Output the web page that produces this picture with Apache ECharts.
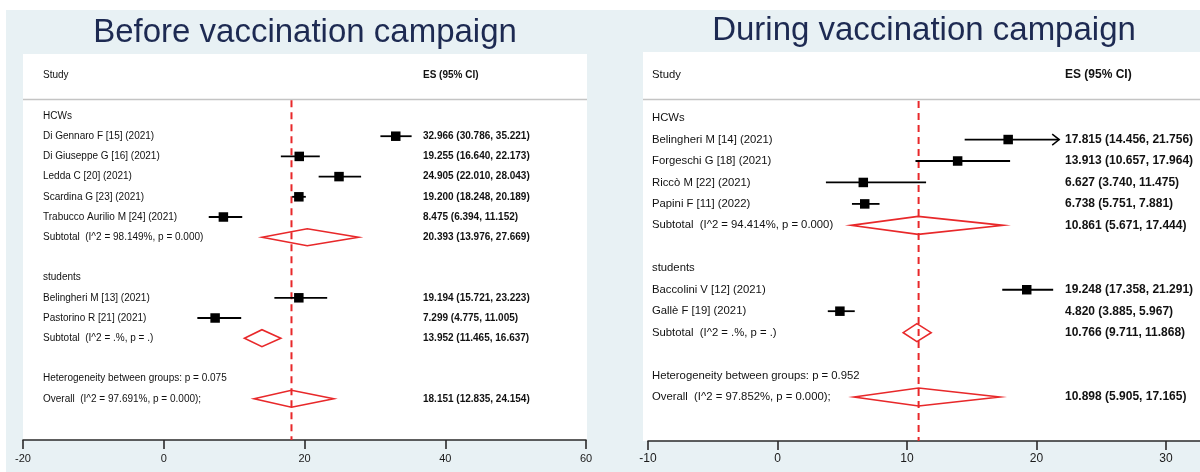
<!DOCTYPE html>
<html>
<head>
<meta charset="utf-8">
<script src="https://cdn.jsdelivr.net/npm/echarts@6/dist/echarts.min.js"></script>
<style>
  html, body { margin: 0; padding: 0; background: #ffffff; }
  #chart { width: 1200px; height: 472px; }
</style>
</head>
<body>
<div id="chart"></div>
<script>
// ---------- Before vaccination campaign ----------
const beforeGroups = ['HCWs', 'students'];
const beforeStudies = [
  'Di Gennaro F [15] (2021)', 'Di Giuseppe G [16] (2021)', 'Ledda C [20] (2021)',
  'Scardina G [23] (2021)', 'Trabucco Aurilio M [24] (2021)',
  'Belingheri M [13] (2021)', 'Pastorino R [21] (2021)'
];
const beforeStudyGroup = [0, 0, 0, 0, 0, 1, 1];
const beforeES    = [32.966, 19.255, 24.905, 19.200, 8.475, 19.194, 7.299];
const beforeLower = [30.786, 16.640, 22.010, 18.248, 6.394, 15.721, 4.775];
const beforeUpper = [35.221, 22.173, 28.043, 20.189, 11.152, 23.223, 11.005];
const beforeSubES    = [20.393, 13.952];
const beforeSubLower = [13.976, 11.465];
const beforeSubUpper = [27.669, 16.637];
const beforeSubStats = ['(I^2 = 98.149%, p = 0.000)', '(I^2 = .%, p = .)'];
const beforeHeterogeneityP = '0.075';
const beforeOverallES = 18.151, beforeOverallLower = 12.835, beforeOverallUpper = 24.154;
const beforeOverallStats = '(I^2 = 97.691%, p = 0.000);';
const beforeTicks = [-20, 0, 20, 40, 60];

// ---------- During vaccination campaign ----------
const duringGroups = ['HCWs', 'students'];
const duringStudies = [
  'Belingheri M [14] (2021)', 'Forgeschi G [18] (2021)', 'Riccò M [22] (2021)',
  'Papini F [11] (2022)', 'Baccolini V [12] (2021)', 'Gallè F [19] (2021)'
];
const duringStudyGroup = [0, 0, 0, 0, 1, 1];
const duringES    = [17.815, 13.913, 6.627, 6.738, 19.248, 4.820];
const duringLower = [14.456, 10.657, 3.740, 5.751, 17.358, 3.885];
const duringUpper = [21.756, 17.964, 11.475, 7.881, 21.291, 5.967];
const duringUpperArrow = [true, false, false, false, false, false];
const duringSubES    = [10.861, 10.766];
const duringSubLower = [5.671, 9.711];
const duringSubUpper = [17.444, 11.868];
const duringSubStats = ['(I^2 = 94.414%, p = 0.000)', '(I^2 = .%, p = .)'];
const duringHeterogeneityP = '0.952';
const duringOverallES = 10.898, duringOverallLower = 5.905, duringOverallUpper = 17.165;
const duringOverallStats = '(I^2 = 97.852%, p = 0.000);';
const duringTicks = [-10, 0, 10, 20, 30];

const FONT = '"Liberation Sans", Arial, Helvetica, sans-serif';
const RED = '#e8282a';
const NAVY = '#1d2a52';
const BG = '#e8f1f4';

const fmt = (es, lo, hi) => `${es.toFixed(3)} (${lo.toFixed(3)}, ${hi.toFixed(3)})`;

// Turn the per-panel arrays into forest-plot rows (row index = vertical slot)
function buildRows(p) {
  const rows = [{ row: -2, kind: 'header', label: 'Study', value: 'ES (95% CI)' }];
  let r = 0;
  p.groups.forEach((g, gi) => {
    rows.push({ row: r++, kind: 'text', label: g });
    p.studies.forEach((s, i) => {
      if (p.studyGroup[i] !== gi) return;
      rows.push({
        row: r++, kind: 'study', label: s,
        es: p.es[i], lo: p.lower[i], hi: p.upper[i],
        arrow: p.arrow ? p.arrow[i] : false,
        value: fmt(p.es[i], p.lower[i], p.upper[i])
      });
    });
    rows.push({
      row: r++, kind: 'diamond', label: 'Subtotal  ' + p.subStats[gi],
      es: p.subES[gi], lo: p.subLower[gi], hi: p.subUpper[gi],
      value: fmt(p.subES[gi], p.subLower[gi], p.subUpper[gi])
    });
    r++; // empty line between groups
  });
  rows.push({ row: r++, kind: 'text', label: 'Heterogeneity between groups: p = ' + p.hetP });
  rows.push({
    row: r++, kind: 'diamond', label: 'Overall  ' + p.overallStats,
    es: p.overallES, lo: p.overallLower, hi: p.overallUpper,
    value: fmt(p.overallES, p.overallLower, p.overallUpper)
  });
  return rows;
}

const beforeRows = buildRows({
  groups: beforeGroups, studies: beforeStudies, studyGroup: beforeStudyGroup,
  es: beforeES, lower: beforeLower, upper: beforeUpper,
  subES: beforeSubES, subLower: beforeSubLower, subUpper: beforeSubUpper, subStats: beforeSubStats,
  hetP: beforeHeterogeneityP,
  overallES: beforeOverallES, overallLower: beforeOverallLower, overallUpper: beforeOverallUpper,
  overallStats: beforeOverallStats
});
const duringRows = buildRows({
  groups: duringGroups, studies: duringStudies, studyGroup: duringStudyGroup,
  es: duringES, lower: duringLower, upper: duringUpper, arrow: duringUpperArrow,
  subES: duringSubES, subLower: duringSubLower, subUpper: duringSubUpper, subStats: duringSubStats,
  hetP: duringHeterogeneityP,
  overallES: duringOverallES, overallLower: duringOverallLower, overallUpper: duringOverallUpper,
  overallStats: duringOverallStats
});

// Draws one row: study text, ES text, CI whisker + box or pooled diamond
function forestRenderer(rows, cfg) {
  return function (params, api) {
    const d = rows[params.dataIndex];
    const cs = params.coordSys;
    const y = api.coord([0, d.row])[1];
    const children = [];
    const labelFont = `${cfg.font}px ${FONT}`;
    const valueFont = `bold ${cfg.valueFont}px ${FONT}`;
    children.push({
      type: 'text',
      style: { x: cs.x + cfg.labelOffset, y: y, text: d.label, font: labelFont,
               fill: '#111', align: 'left', verticalAlign: 'middle' }
    });
    if (d.value) {
      children.push({
        type: 'text',
        style: { x: cs.x + cfg.valueOffset, y: y, text: d.value, font: valueFont,
                 fill: '#111', align: 'left', verticalAlign: 'middle' }
      });
    }
    if (d.kind === 'study') {
      const pLo = api.coord([d.lo, d.row]);
      const pHi = api.coord([d.hi, d.row]);
      const pEs = api.coord([d.es, d.row]);
      children.push({
        type: 'line',
        shape: { x1: pLo[0], y1: y, x2: pHi[0], y2: y },
        style: { stroke: '#000', lineWidth: 1.8 }
      });
      if (d.arrow) {
        children.push({
          type: 'polyline',
          shape: { points: [[pHi[0] - 7, y - 5.5], [pHi[0], y], [pHi[0] - 7, y + 5.5]] },
          style: { stroke: '#000', lineWidth: 1.5, fill: 'none' }
        });
      }
      const s = cfg.box;
      children.push({
        type: 'rect',
        shape: { x: pEs[0] - s / 2, y: y - s / 2, width: s, height: s },
        style: { fill: '#000' }
      });
    } else if (d.kind === 'diamond') {
      const xl = api.coord([d.lo, d.row])[0];
      const xh = api.coord([d.hi, d.row])[0];
      const xm = api.coord([d.es, d.row])[0];
      const h = cfg.diamond / 2;
      children.push({
        type: 'polygon',
        shape: { points: [[xl, y], [xm, y - h], [xh, y], [xm, y + h]] },
        style: { stroke: RED, lineWidth: 1.6, fill: 'none' }
      });
    }
    return { type: 'group', children: children };
  };
}

const chart = echarts.init(document.getElementById('chart'), null, { renderer: 'canvas' });

const axisCommon = (ticks, min, max, fontSize, margin) => ({
  type: 'value', min: min, max: max,
  axisLine: { show: true, onZero: false, lineStyle: { color: '#2a2a2a', width: 1.6 } },
  axisTick: { show: true, inside: false, length: 9, lineStyle: { color: '#2a2a2a', width: 1.6 },
              customValues: ticks },
  axisLabel: { show: true, color: '#1a1a1a', fontSize: fontSize, fontFamily: FONT, margin: margin,
               customValues: ticks, showMinLabel: true, showMaxLabel: true },
  splitLine: { show: false }
});

const option = {
  animation: false,
  backgroundColor: '#ffffff',
  graphic: [
    { type: 'rect', z: -10, shape: { x: 6, y: 10, width: 1194, height: 462 }, style: { fill: BG } },
    { type: 'rect', z: -9, shape: { x: 23, y: 54, width: 564, height: 386 }, style: { fill: '#ffffff' } },
    { type: 'rect', z: -9, shape: { x: 643, y: 52, width: 557, height: 389 }, style: { fill: '#ffffff' } },
    { type: 'line', z: -8, shape: { x1: 23, y1: 99.5, x2: 587, y2: 99.5 }, style: { stroke: '#c4c4c4', lineWidth: 1.5 } },
    { type: 'line', z: -8, shape: { x1: 643, y1: 99.5, x2: 1200, y2: 99.5 }, style: { stroke: '#c4c4c4', lineWidth: 1.5 } },
    { type: 'text', x: 305, y: 33, style: { text: 'Before vaccination campaign', font: `33px ${FONT}`,
      fill: NAVY, align: 'center', verticalAlign: 'middle' } },
    { type: 'text', x: 924, y: 31, style: { text: 'During vaccination campaign', font: `33px ${FONT}`,
      fill: NAVY, align: 'center', verticalAlign: 'middle' } }
  ],
  grid: [
    { left: 23, right: 1200 - 586, top: 54, bottom: 32, containLabel: false },
    { left: 648, right: 0, top: 52, bottom: 31, containLabel: false }
  ],
  xAxis: [
    Object.assign({ gridIndex: 0 }, axisCommon(beforeTicks, -20, 60, 11, 13)),
    Object.assign({ gridIndex: 1 }, axisCommon(duringTicks, -10, 32.63, 12, 12))
  ],
  yAxis: [
    { gridIndex: 0, type: 'value', inverse: true, min: -3.07, max: 16.04, show: false },
    { gridIndex: 1, type: 'value', inverse: true, min: -3.08, max: 15.05, show: false }
  ],
  series: [
    {
      type: 'line', xAxisIndex: 0, yAxisIndex: 0, silent: true, symbol: 'none',
      data: [[beforeOverallES, -0.78], [beforeOverallES, 16.04]],
      lineStyle: { color: RED, width: 2, type: [7, 5] }, z: 1
    },
    {
      type: 'line', xAxisIndex: 1, yAxisIndex: 1, silent: true, symbol: 'none',
      data: [[duringOverallES, -0.8], [duringOverallES, 15.05]],
      lineStyle: { color: RED, width: 2, type: [7, 5] }, z: 1
    },
    {
      type: 'custom', xAxisIndex: 0, yAxisIndex: 0, silent: true, z: 2, clip: false,
      data: beforeRows.map(r => [0, r.row]),
      renderItem: forestRenderer(beforeRows, { labelOffset: 20, valueOffset: 400, font: 10,
        valueFont: 10, box: 9.5, diamond: 17 })
    },
    {
      type: 'custom', xAxisIndex: 1, yAxisIndex: 1, silent: true, z: 2, clip: false,
      data: duringRows.map(r => [0, r.row]),
      renderItem: forestRenderer(duringRows, { labelOffset: 4, valueOffset: 417, font: 11.3,
        valueFont: 12, box: 9.5, diamond: 18 })
    }
  ]
};

chart.setOption(option);
</script>
</body>
</html>
